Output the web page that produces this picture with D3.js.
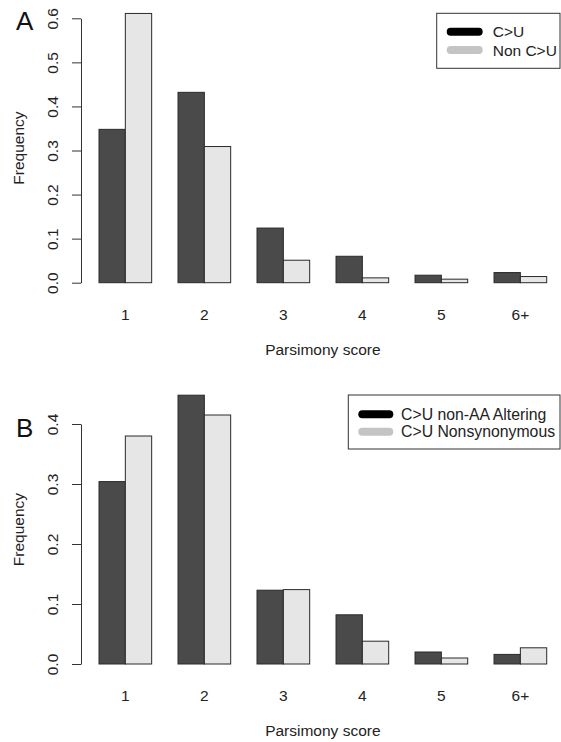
<!DOCTYPE html>
<html>
<head>
<meta charset="utf-8">
<script src="https://cdn.jsdelivr.net/npm/d3@7"></script>
<style>
  body { margin: 0; background: #fff; }
  svg { display: block; font-family: "Liberation Sans", Arial, Helvetica, sans-serif; }
</style>
</head>
<body>
<svg width="561" height="742"></svg>
<script>
// parsimony score categories
var scores = ["1", "2", "3", "4", "5", "6+"];

// panel A
var cuA = [0.348, 0.432, 0.124, 0.060, 0.017, 0.023];
var nonCuA = [0.611, 0.309, 0.051, 0.011, 0.008, 0.014];
var ticksA = [0, 0.1, 0.2, 0.3, 0.4, 0.5, 0.6];
var legendA = ["C>U", "Non C>U"];

// panel B
var nonAltB = [0.304, 0.448, 0.123, 0.082, 0.020, 0.016];
var nonsynB = [0.380, 0.415, 0.124, 0.038, 0.010, 0.027];
var ticksB = [0, 0.1, 0.2, 0.3, 0.4];
var legendB = ["C>U non-AA Altering", "C>U Nonsynonymous"];

var svg = d3.select("svg");
var dark = "#4a4a4a", light = "#e6e6e6";

// R style barplot: each group = 2 bars + 1 gap (units)
var x = d3.scaleLinear().domain([1, 18]).range([99, 546.7]);

function panel(opt) {
	var g = svg.append("g");
	var y = d3.scaleLinear().domain([0, opt.ticks[opt.ticks.length - 1]]).range([opt.y0, opt.ytop]);

	var rows = [];
	for (var i = 0; i < scores.length; i++) {
		rows.push({ u: 1 + 3 * i, v: opt.a[i], fill: dark });
		rows.push({ u: 2 + 3 * i, v: opt.b[i], fill: light });
	}

	g.append("g")
		.selectAll("rect")
		.data(rows)
		.enter()
		.append("rect")
		.attr("x", (d) => x(d.u))
		.attr("width", (d) => x(d.u + 1) - x(d.u))
		.attr("y", (d) => y(d.v))
		.attr("height", (d) => y(0) - y(d.v))
		.style("fill", (d) => d.fill)
		.style("stroke", "#2a2a2a")
		.style("stroke-width", 1);

	// y axis
	var ax = g.append("g")
		.attr("transform", "translate(81,0)")
		.call(d3.axisLeft(y).tickValues(opt.ticks).tickSize(9).tickSizeOuter(0).tickFormat(d3.format(".1f")));
	ax.select(".domain").attr("stroke", "#333");
	ax.selectAll(".tick line").attr("stroke", "#333");
	ax.selectAll(".tick text")
		.attr("x", null)
		.attr("dy", null)
		.attr("transform", "translate(-23,0) rotate(-90)")
		.attr("text-anchor", "middle")
		.attr("fill", "#222")
		.style("font-size", "15.5px");

	// category labels
	g.append("g")
		.selectAll("text")
		.data(scores)
		.enter()
		.append("text")
		.attr("x", (d, i) => x(2 + 3 * i))
		.attr("y", opt.y0 + 37)
		.attr("text-anchor", "middle")
		.style("font-size", "15.5px")
		.style("fill", "#222")
		.text((d) => d);

	g.append("text")
		.attr("x", (x(1) + x(18)) / 2)
		.attr("y", opt.y0 + 72)
		.attr("text-anchor", "middle")
		.style("font-size", "15.5px")
		.style("fill", "#222")
		.text("Parsimony score");

	var maxV = d3.max(opt.a.concat(opt.b));
	g.append("text")
		.attr("transform", "translate(24," + y(maxV / 2) + ") rotate(-90)")
		.attr("text-anchor", "middle")
		.style("font-size", "15.5px")
		.style("fill", "#222")
		.text("Frequency");

	g.append("text")
		.attr("x", 16)
		.attr("y", opt.letterY)
		.style("font-size", "26px")
		.style("fill", "#111")
		.text(opt.letter);

	// legend
	var L = opt.legend;
	g.append("rect")
		.attr("x", L.x).attr("y", L.y)
		.attr("width", 560 - L.x).attr("height", L.h)
		.style("fill", "#fff").style("stroke", "#333");
	var items = g.append("g")
		.selectAll("g")
		.data(opt.legendText)
		.enter()
		.append("g")
		.attr("transform", (d, i) => "translate(0," + (L.y + L.first + i * L.step) + ")");
	items.append("line")
		.attr("x1", L.lx + 4).attr("x2", L.lx + L.lw - 4)
		.style("stroke", (d, i) => (i == 0 ? "#000" : "#c4c4c4"))
		.style("stroke-width", 8)
		.style("stroke-linecap", "round");
	items.append("text")
		.attr("x", L.tx)
		.attr("dy", "0.36em")
		.style("font-size", L.fs)
		.style("fill", "#222")
		.text((d) => d);
}

panel({
	a: cuA, b: nonCuA, ticks: ticksA, y0: 282.7, ytop: 18.3,
	letter: "A", letterY: 30, legendText: legendA,
	legend: { x: 436.7, y: 13.3, h: 55, first: 18.4, step: 18.3, lx: 446.7, lw: 36, tx: 492.7, fs: "15.5px" }
});

panel({
	a: nonAltB, b: nonsynB, ticks: ticksB, y0: 664, ytop: 424,
	letter: "B", letterY: 437, legendText: legendB,
	legend: { x: 348.3, y: 395, h: 54, first: 19.3, step: 17.4, lx: 358.3, lw: 35, tx: 401, fs: "15.8px" }
});
</script>
</body>
</html>
